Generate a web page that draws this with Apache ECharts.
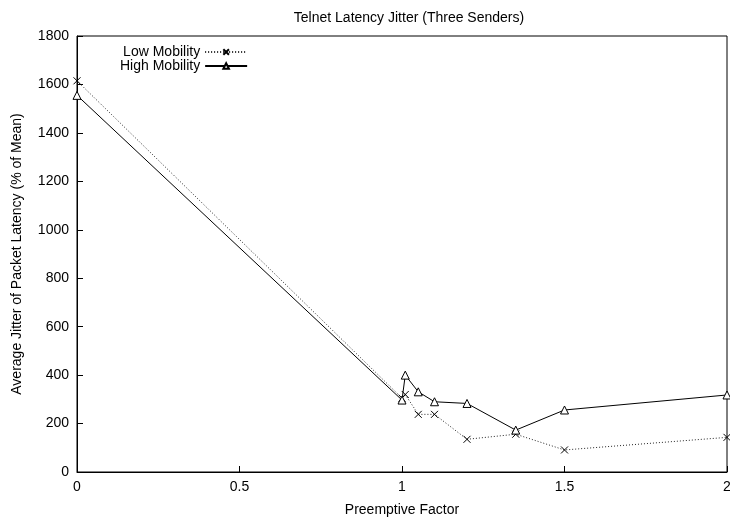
<!DOCTYPE html>
<html>
<head>
<meta charset="utf-8">
<script src="https://cdn.jsdelivr.net/npm/echarts@6/dist/echarts.min.js"></script>
<style>
	html, body { margin: 0; padding: 0; background: #fff; }
	#chart { width: 730px; height: 519px; }
</style>
</head>
<body>
<div id="chart"></div>
<script>
// values
const lowX = [0, 1.0, 1.01, 1.05, 1.1, 1.2, 1.35, 1.5, 2];
const lowY = [1615, 305, 320, 238, 238, 135, 156, 91, 143];
const highX = [0, 1.0, 1.01, 1.05, 1.1, 1.2, 1.35, 1.5, 2];
const highY = [1555, 297, 400, 331, 290, 283, 173, 256, 318];

const font = 'Liberation Sans, Arial, sans-serif';
const crossPath = 'path://M0,0L10,10M10,0L0,10';

function pairs(xs, ys) {
	return xs.map((x, i) => [x, ys[i]]);
}

function renderChart(chartId) {
	const chart = echarts.init(document.getElementById(chartId));
	chart.setOption({
		animation: false,
		textStyle: { fontFamily: font, color: '#000' },
		title: {
			text: 'Telnet Latency Jitter (Three Senders)',
			left: 404,
			textAlign: 'center',
			top: 6,
			textStyle: { fontFamily: font, fontSize: 14, fontWeight: 'normal', color: '#000' }
		},
		grid: {
			left: 77, right: 3, top: 36, bottom: 47,
			outerBoundsMode: 'none',
			show: true, borderColor: '#000', borderWidth: 1
		},
		legend: {
			orient: 'vertical',
			left: 115,
			top: 40,
			align: 'right',
			itemWidth: 42,
			itemHeight: 7,
			itemGap: 0,
			selectedMode: false,
			textStyle: { fontFamily: font, fontSize: 14, lineHeight: 14, color: '#000' },
			data: ['Low Mobility', 'High Mobility']
		},
		xAxis: {
			type: 'value',
			min: 0,
			max: 2,
			interval: 0.5,
			name: 'Preemptive Factor',
			nameLocation: 'middle',
			nameGap: 31,
			nameTextStyle: { fontFamily: font, fontSize: 14, color: '#000' },
			axisLine: { lineStyle: { color: '#000' } },
			axisTick: { inside: true, length: 6, lineStyle: { color: '#000' } },
			axisLabel: { fontFamily: font, fontSize: 14, color: '#000', margin: 8 },
			splitLine: { show: false }
		},
		yAxis: {
			type: 'value',
			min: 0,
			max: 1800,
			interval: 200,
			name: 'Average Jitter of Packet Latency (% of Mean)',
			nameLocation: 'middle',
			nameGap: 53,
			nameTextStyle: { fontFamily: font, fontSize: 14, color: '#000' },
			axisLine: { lineStyle: { color: '#000' } },
			axisTick: { inside: true, length: 6, lineStyle: { color: '#000' } },
			axisLabel: { fontFamily: font, fontSize: 14, color: '#000', margin: 8, formatter: v => String(v) },
			splitLine: { show: false }
		},
		series: [
			{
				name: 'Low Mobility',
				type: 'line',
				data: pairs(lowX, lowY),
				symbol: crossPath,
				symbolSize: 7,
				showAllSymbol: true,
				lineStyle: { color: '#222', width: 1, type: [1, 2] },
				itemStyle: { color: '#000', borderColor: '#000', borderWidth: 1 }
			},
			{
				name: 'High Mobility',
				type: 'line',
				data: pairs(highX, highY),
				symbol: 'triangle',
				symbolSize: 8,
				showAllSymbol: true,
				lineStyle: { color: '#000', width: 1 },
				itemStyle: { color: '#fff', borderColor: '#000', borderWidth: 1 }
			}
		]
	});

	window.addEventListener('resize', () => chart.resize());
}

renderChart('chart');
</script>
</body>
</html>
